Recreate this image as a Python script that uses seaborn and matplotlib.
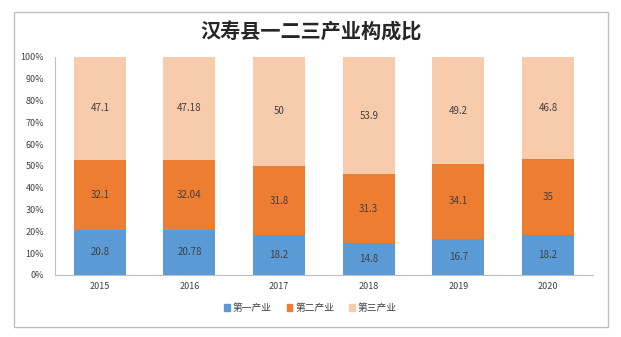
import matplotlib
matplotlib.use("Agg")
import matplotlib.pyplot as plt
import matplotlib.patches as mpatches
import seaborn as sns
import pandas as pd
import numpy as np

years = ["2015", "2016", "2017", "2018", "2019", "2020"]
primary = [20.8, 20.78, 18.2, 14.8, 16.7, 18.2]
secondary = [32.1, 32.04, 31.8, 31.3, 34.1, 35]
tertiary = [47.1, 47.18, 50, 53.9, 49.2, 46.8]
series_names = ["第一产业", "第二产业", "第三产业"]
label_primary = ["20.8", "20.78", "18.2", "14.8", "16.7", "18.2"]
label_secondary = ["32.1", "32.04", "31.8", "31.3", "34.1", "35"]
label_tertiary = ["47.1", "47.18", "50", "53.9", "49.2", "46.8"]
colors = ["#5B9BD5", "#ED7D31", "#F8CBAD"]

sns.set_style("white")
plt.rcParams['font.family'] = ['Noto Sans CJK SC', 'DejaVu Sans']

fig = plt.figure(figsize=(6.21, 3.37), dpi=100)
ax = fig.add_axes([0.0886, 0.184, 0.866, 0.647])

# outer frame
fig.patches.append(mpatches.Rectangle((14/621, 1-327/337), (608-14)/621, (327-12)/337,
                                      transform=fig.transFigure, fill=False,
                                      edgecolor="#BFBFBF", linewidth=1.0))

vals = [np.array(primary), np.array(secondary), np.array(tertiary)]
totals = vals[0] + vals[1] + vals[2]
pcts = [v / totals * 100 for v in vals]
labels = [label_primary, label_secondary, label_tertiary]

bottom = np.zeros(len(years))
for i, name in enumerate(series_names):
    df = pd.DataFrame({"year": years, "value": pcts[i]})
    sns.barplot(data=df, x="year", y="value", color=colors[i], width=0.58,
                bottom=bottom, ax=ax, saturation=1, linewidth=0, legend=False)
    for j in range(len(years)):
        ax.text(j, bottom[j] + pcts[i][j] / 2, labels[i][j], ha="center", va="center",
                fontsize=7, color="#404040")
    bottom = bottom + pcts[i]

ax.set_ylim(0, 100)
ax.set_xlim(-0.5, len(years) - 0.5)
ax.set_yticks(np.arange(0, 101, 10))
ax.set_yticklabels([f"{t}%" for t in range(0, 101, 10)])
ax.tick_params(axis="both", labelsize=6.5, colors="#404040", length=0)
ax.tick_params(axis="y", pad=8)
ax.tick_params(axis="x", pad=5)
ax.set_xlabel("")
ax.set_ylabel("")
if ax.get_legend() is not None:
    ax.get_legend().remove()
for s in ["top", "right"]:
    ax.spines[s].set_visible(False)
for s in ["left", "bottom"]:
    ax.spines[s].set_color("#BFBFBF")
    ax.spines[s].set_linewidth(0.8)

fig.text(0.5, 1 - 32/337, "汉寿县一二三产业构成比", ha="center", va="center",
         fontsize=14.5, fontweight="bold", color="#262626")

handles = [mpatches.Patch(color=c, label=n) for c, n in zip(colors, series_names)]
leg = fig.legend(handles=handles, loc="center", bbox_to_anchor=(0.5, 1 - 308/337),
                 ncol=3, frameon=False, fontsize=7, handlelength=0.6, handleheight=0.6,
                 handletextpad=0.3, columnspacing=1.5)
for t in leg.get_texts():
    t.set_color("#404040")

fig.savefig("out.png", dpi=100)
